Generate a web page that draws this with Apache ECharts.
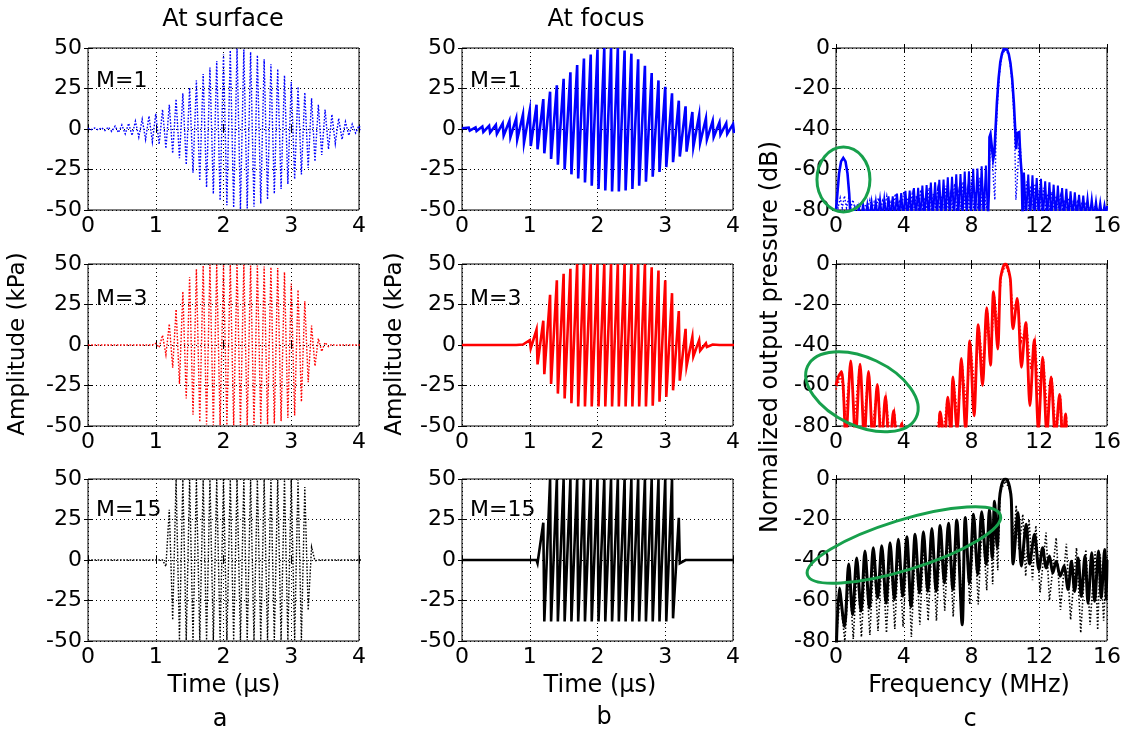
<!DOCTYPE html>
<html>
<head>
<meta charset="utf-8">
<script src="https://cdn.jsdelivr.net/npm/echarts@6/dist/echarts.min.js"></script>
<style>
  html, body { margin: 0; padding: 0; background: #fff; }
  #chart { width: 1126px; height: 740px; }
</style>
</head>
<body>
<div id="chart"></div>
<script>
// ---- tick values ----
const timeTicks = [0, 1, 2, 3, 4];
const ampTicks = [-50, -25, 0, 25, 50];
const freqTicks = [0, 4, 8, 12, 16];
const dbTicks = [-80, -60, -40, -20, 0];

// ---- time signals: one positive and one negative peak per 10 MHz cycle (kPa) ----
const cycleT = [0.0,0.1,0.2,0.3,0.4,0.5,0.6,0.7,0.8,0.9,1.0,1.1,1.2,1.3,1.4,1.5,1.6,1.7,1.8,1.9,2.0,
                2.1,2.2,2.3,2.4,2.5,2.6,2.7,2.8,2.9,3.0,3.1,3.2,3.3,3.4,3.5,3.6,3.7,3.8,3.9,4.0];
const surfaceLag = 0.05;   // µs from crest to trough, surface traces
const focusLag = 0.015;    // µs from crest to trough, focal traces (steep fall)

const surfM1Pos = [0.5,0.6,0.8,1.2,1.8,2.5,3.5,4.8,6,8,9.5,12,15,18.5,22,25.5,30,34,38,42,46,
                   48.5,49.5,49,47.5,45.5,43,40,37,33,29,26,22.5,19,15,12,9,6.5,4.5,3,2];
const surfM1Neg = [-0.4,-0.6,-1,-1.5,-2.2,-3,-4,-5,-6.5,-8,-9.5,-12,-15,-18,-22,-27,-32,-36,-40,-44,-47,
                   -48.5,-49.5,-49,-48,-46,-43.5,-40,-37,-34,-31,-28,-24,-20,-16,-12.5,-9,-6.5,-4,-2.5,-1.5];

const focusM1Pos = [0.5,0.8,1,1.5,2,2.5,3.5,5,6.5,9,11.5,15,18.5,23,27,31,35,39.5,43.5,46,49,
                    50,50,50,48.5,46.5,43,39,34.5,30,26,22,17.5,14,10.5,8.5,6.5,5,4,3.5,3];
const focusM1Neg = [-0.5,-1,-1.2,-1.8,-2.2,-3,-4,-5,-6.5,-8.5,-10.5,-12.5,-15,-18.5,-22,-25,-28,-30.5,-33,-35,-37,
                    -38,-38.5,-38.5,-38,-37,-35,-32.5,-29.5,-26.5,-23.5,-20.5,-17,-14,-11,-8.5,-6.5,-5,-3.5,-3,-2.5];

const surfM3Pos = [0,0,0,0,0,0,0,0,0,0,1,6,13,22,33,42,47,49,49.5,49.5,49.5,
                   49.5,49.5,49.5,49,49,48.5,48,47.5,45,38,34,27,12,4,1.5,0.5,0,0,0,0];
const surfM3Neg = [0,0,0,0,0,0,0,0,0,0,-1.5,-6,-14,-24,-33,-43,-47.5,-49,-49.5,-49.5,-49.5,
                   -49.5,-49.5,-49.5,-49.5,-49,-49,-48.5,-47,-45,-43.5,-35,-23,-13,-4,-1,-0.3,0,0,0,0];

const focusM3Pos = [0,0,0,0,0,0,0,0,0,0.3,3,9.5,15,31,40,44,47,50,50,50,50,
                    50,50,50,50,50,50,50,48,46,40,32,21,10,5,3,1,0.3,0,0,0];
const focusM3Neg = [0,0,0,0,-0.7,-0.7,-0.7,-0.7,-0.7,-0.7,-2,-12,-18,-24,-30,-33,-36,-38,-38,-38,-38,
                    -38,-38,-38,-38,-38,-38,-38,-37.5,-35,-32,-28,-22,-13,-7,-3.5,-1.2,-0.7,-0.5,-0.3,0];

const surfM15Pos = [0,0,0,0,0,0,0,0,0,0,0,0,31,49.5,49.5,49.5,49.5,49.5,49.5,49.5,49.5,
                    49.5,49.5,49.5,49.5,49.5,49.5,49.5,49.5,49.5,49.5,49.5,45,8,0,0,0,0,0,0,0];
const surfM15Neg = [0,0,0,0,0,0,0,0,0,0,0,-4,-37,-49.5,-49.5,-49.5,-49.5,-49.5,-49.5,-49.5,-49.5,
                    -49.5,-49.5,-49.5,-49.5,-49.5,-49.5,-49.5,-49.5,-49.5,-49.5,-49.5,-31,-0.5,0,0,0,0,0,0,0];

const focusM15Pos = [0,0,0,0,0,0,0,0,0,0,0,0,23,50,50,50,50,50,50,50,50,
                     50,50,50,50,50,50,50,50,50,50,50,26,0,0,0,0,0,0,0,0];
const focusM15Neg = [0,0,0,0,0,0,0,0,0,0,0,-2,-38,-38,-38,-38,-38,-38,-38,-38,-38,
                     -38,-38,-38,-38,-38,-38,-38,-38,-38,-38,-36,-2,0,0,0,0,0,0,0,0];

// ---- spectra: [frequency MHz, normalized level dB] ----
const specM1Lobes = [
  [0,-80],[0.08,-72],[0.18,-62],[0.3,-56],[0.43,-54.3],[0.56,-56],[0.68,-62],[0.78,-72],[0.86,-84],
  [8.97,-84],[9.03,-70],[9.06,-44],[9.12,-42.5],[9.22,-42.8],[9.28,-55],[9.35,-52],[9.42,-40],[9.5,-27],
  [9.6,-15],[9.7,-7],[9.8,-2.8],[9.9,-0.6],[10.0,0],[10.1,-0.7],[10.2,-3],[10.3,-7.5],[10.4,-15],
  [10.5,-27],[10.58,-40],[10.64,-50],[10.7,-42],[10.82,-41.5],[10.88,-53],[10.96,-62],[11.02,-84]
];
const specM1Floor = [
  [0.86,-84],[1.1,-79],[1.22,-84],[1.35,-78.6],[1.47,-84],[1.6,-77.4],[1.72,-84],[1.85,-77.2],[1.97,-84],
  [2.1,-76],[2.22,-84],[2.35,-75.8],[2.47,-84],[2.6,-74.8],[2.72,-84],[2.85,-74.5],[2.97,-84],[3.1,-73.3],
  [3.22,-84],[3.35,-73.2],[3.47,-84],[3.6,-71.9],[3.72,-84],[3.85,-71.7],[3.97,-84],[4.1,-70.5],[4.22,-84],
  [4.35,-70.4],[4.47,-84],[4.6,-69.2],[4.72,-84],[4.85,-69],[4.97,-84],[5.1,-67.9],[5.22,-84],[5.35,-67.7],
  [5.47,-84],[5.6,-66.5],[5.72,-84],[5.85,-66.3],[5.97,-84],[6.1,-65.1],[6.22,-84],[6.35,-65],[6.47,-84],
  [6.6,-63.8],[6.72,-84],[6.85,-63.6],[6.97,-84],[7.1,-62.4],[7.22,-84],[7.35,-62.2],[7.47,-84],[7.6,-61],
  [7.72,-84],[7.85,-60.9],[7.97,-84],[8.1,-59.7],[8.22,-84],[8.35,-59.5],[8.47,-84],[8.6,-58.4],[8.72,-84],
  [8.85,-58],[8.97,-84],
  [11.02,-84],[11.1,-61.5],[11.22,-84],[11.35,-62.5],[11.47,-84],[11.6,-62.9],[11.72,-84],[11.85,-64.2],
  [11.97,-84],[12.1,-64.6],[12.22,-84],[12.35,-65.8],[12.47,-84],[12.6,-66.3],[12.72,-84],[12.85,-67.5],
  [12.97,-84],[13.1,-67.9],[13.22,-84],[13.35,-69.2],[13.47,-84],[13.6,-69.6],[13.72,-84],[13.85,-70.8],
  [13.97,-84],[14.1,-71.3],[14.22,-84],[14.35,-72.5],[14.47,-84],[14.6,-72.9],[14.72,-84],[14.85,-74.2],
  [14.97,-84],[15.1,-74.6],[15.22,-84],[15.35,-75.8],[15.47,-84],[15.6,-76.3],[15.72,-84],[15.85,-77.5],
  [15.97,-84],[16,-78]
];
const specM1Dot = [
  [0,-75],[0.12,-79],[0.25,-74],[0.37,-79],[0.5,-73],[0.62,-79],[0.75,-74],[0.87,-79],[1.0,-75],[1.12,-79.5],
  [1.25,-77],[1.37,-79.5],[1.5,-76.5],[1.62,-79.5],[1.75,-77.5],[1.87,-79.5],[2.0,-75],[2.12,-79.5],
  [2.25,-76],[2.37,-79.5],[2.5,-74],[2.62,-79.5],[2.75,-75.5],[2.87,-79.5],[3.0,-73],[3.12,-79.5],
  [3.25,-76],[3.37,-79.5],[3.5,-72],[3.62,-79.5],[3.75,-75],[3.87,-79.5],[4.0,-71],[4.12,-79.5],
  [4.25,-74],[4.37,-79.5],[4.5,-72],[4.62,-79.5],[4.75,-73],[4.87,-79.5],[5.0,-70],[5.12,-79.5],
  [5.25,-74],[5.37,-79.5],[5.5,-69],[5.62,-79.5],[5.75,-72],[5.87,-79.5],[6.0,-70],[6.12,-79.5],
  [6.25,-73],[6.37,-79.5],[6.5,-68],[6.62,-79.5],[6.75,-72],[6.87,-79.5],[7.0,-67],[7.12,-79.5],
  [7.25,-71],[7.37,-79.5],[7.5,-66],[7.62,-79.5],[7.75,-70],[7.87,-79.5],[8.0,-65],[8.12,-79.5],
  [8.25,-71],[8.37,-79.5],[8.5,-64],[8.62,-79.5],[8.75,-70],[8.87,-79.5],
  [9.0,-72],[9.1,-50],[9.2,-48],[9.3,-66],[9.38,-75],[9.45,-42],[9.55,-25],[9.65,-13],[9.78,-4],[10.0,-0.5],
  [10.22,-4],[10.35,-13],[10.45,-25],[10.55,-42],[10.62,-75],[10.7,-66],[10.8,-48],[10.9,-50],[11.0,-72],
  [11.12,-79.5],[11.25,-66],[11.37,-79.5],[11.5,-68],[11.62,-79.5],[11.75,-67],[11.87,-79.5],[12.0,-70],
  [12.12,-79.5],[12.25,-69],[12.37,-79.5],[12.5,-72],[12.62,-79.5],[12.75,-71],[12.87,-79.5],[13.0,-73],
  [13.12,-79.5],[13.25,-73],[13.37,-79.5],[13.5,-75],[13.62,-79.5],[13.75,-74],[13.87,-79.5],[14.0,-76],
  [14.12,-79.5],[14.25,-76],[14.37,-79.5],[14.5,-77],[14.62,-79.5],[14.75,-77],[14.87,-79.5],[15.0,-78],
  [15.12,-79.5],[15.25,-78],[15.37,-79.5],[15.5,-79],[15.62,-79.5],[16,-79.5]
];

const specM3Solid = [
  [0,-60],[0.12,-56],[0.33,-53],[0.58,-86],[0.87,-47.8],[1.15,-86],[1.42,-49.4],[1.67,-86],[1.92,-53],
  [2.18,-88],[2.44,-59.4],[2.68,-90],[2.92,-65.4],[3.16,-92],[3.4,-72.4],[3.63,-94],[3.88,-78.7],[4.1,-98],
  [5.9,-95],[6.15,-73],[6.4,-88],[6.6,-65.7],[6.78,-84],[6.9,-55.7],[7.15,-82],[7.4,-46.6],[7.65,-82],
  [7.9,-38],[8.15,-75],[8.4,-30],[8.65,-60],[8.9,-21.6],[9.12,-50],[9.3,-13.6],[9.55,-42],[9.7,-8],
  [9.8,-3.5],[9.9,-0.8],[10.0,0],[10.1,-0.8],[10.2,-3.5],[10.3,-8],[10.45,-32],[10.7,-17],[10.95,-51],
  [11.2,-29],[11.45,-70],[11.7,-37.4],[11.95,-82],[12.2,-46],[12.45,-84],[12.7,-55.7],[12.95,-86],
  [13.2,-64.4],[13.4,-90],[13.55,-74],[13.75,-95],[16,-99]
];
const specM3Dot = [
  [0,-62],[0.3,-55],[0.55,-75],[0.85,-49],[1.1,-75],[1.4,-50],[1.65,-78],[1.9,-54],[2.15,-80],[2.45,-60],
  [2.7,-84],[2.95,-66],[3.2,-86],[3.45,-73],[3.65,-88],[3.9,-79],[4.1,-95],
  [5.8,-90],[6.1,-75],[6.3,-85],[6.55,-68],[6.75,-82],[6.95,-58],[7.2,-76],[7.45,-49],[7.7,-70],[7.95,-40],
  [8.2,-62],[8.45,-32],[8.7,-52],[8.95,-24],[9.15,-45],[9.35,-16],[9.55,-30],[9.75,-6],[10,-0.5],
  [10.25,-6],[10.45,-22],[10.7,-18],[10.95,-38],[11.25,-30],[11.5,-52],[11.75,-38],[12.0,-65],[12.25,-47],
  [12.5,-75],[12.75,-56],[13.0,-85],[13.25,-65],[13.45,-92],[13.6,-75],[13.8,-96],[16,-99]
];

const specM15Solid = [
  [0,-90],[0.2,-53.8],[0.5,-72.8],[0.75,-42],[0.98,-67],[1.22,-39],[1.48,-65.3],[1.71,-35.6],[1.97,-63.7],
  [2.2,-34],[2.46,-58.8],[2.7,-33],[2.96,-61.3],[3.19,-31.5],[3.45,-59.6],[3.68,-29.8],[3.94,-57.9],
  [4.18,-28.5],[4.43,-63],[4.67,-27.3],[4.93,-56.3],[5.16,-26],[5.42,-55.5],[5.66,-24.5],[5.91,-55.5],
  [6.15,-23],[6.4,-51.3],[6.64,-21.8],[6.9,-54.6],[7.13,-20.2],[7.45,-72],[7.63,-19],[7.88,-51.3],
  [8.12,-17.4],[8.37,-47.2],[8.6,-16.2],[8.87,-42.2],[9.06,-14.9],[9.22,-39],[9.36,-11],[9.52,-34],
  [9.65,-10],[9.75,-4],[9.87,-0.8],[10.0,0],[10.13,-0.8],[10.25,-4],[10.35,-10],[10.46,-42],[10.74,-16.6],
  [10.94,-43],[11.23,-22.4],[11.43,-42],[11.72,-27.3],[11.98,-44.7],[12.2,-34],[12.41,-43.9],[12.6,-38],
  [12.8,-46.4],[13.0,-40.6],[13.24,-48],[13.46,-43],[13.7,-54.6],[13.9,-40.6],[14.09,-55.5],[14.3,-39],
  [14.48,-58],[14.7,-38],[14.88,-61.3],[15.1,-36.4],[15.27,-60.4],[15.5,-35.6],[15.66,-58.8],[15.86,-34.8],
  [15.96,-59.6],[16,-40]
];
const specM15Dot = [
  [0,-80],[0.25,-58],[0.52,-80],[0.78,-46],[1.02,-79],[1.25,-43],[1.5,-78],[1.74,-40],[2.0,-77],[2.23,-38],
  [2.48,-75],[2.73,-37],[2.98,-76],[3.22,-35],[3.47,-74],[3.71,-33],[3.96,-73],[4.21,-32],[4.45,-78],
  [4.7,-31],[4.95,-72],[5.19,-30],[5.44,-70],[5.69,-28],[5.93,-70],[6.18,-27],[6.42,-65],[6.67,-25],
  [6.92,-68],[7.16,-24],[7.42,-60],[7.66,-23],[7.9,-62],[8.15,-21],[8.4,-62],[8.63,-20],[8.9,-55],
  [9.09,-18],[9.25,-52],[9.4,-14],[9.55,-45],[9.7,-6],[10,-1],[10.3,-6],[10.5,-30],[10.64,-13],
  [10.8,-35],[11.03,-17.4],[11.2,-48],[11.4,-20],[11.6,-50],[11.8,-23],[12.05,-56],[12.4,-26.5],
  [12.6,-60],[13.0,-29],[13.25,-64.6],[13.6,-32],[13.85,-69.5],[14.2,-34],[14.45,-76],[14.75,-34.8],
  [15.0,-72],[15.3,-35.8],[15.45,-74.5],[15.6,-37.3],[15.8,-70],[16,-38]
];

// ---- annotation rings around the low-frequency content: [MHz, dB] centre, radii px, tilt rad ----
const ringCentres = [[0.44, -64.9], [1.53, -63.1], [4.01, -32.6]];
const ringRadii = [[26.5, 32.5], [60, 34], [101, 25]];
const ringTilt = [0, -0.44, 0.30];

// ---- layout ----
const FONT = 'DejaVu Sans';
const colLeft = [88, 462, 836];
const rowTop = [48, 264, 479];
const plotW = 271, plotH = 162;

function wave(pos, neg, lag) {
  const out = [];
  for (let i = 0; i < cycleT.length; i++) {
    out.push([cycleT[i], pos[i]]);
    out.push([cycleT[i] + lag, neg[i]]);
  }
  return out;
}

const BLUE = '#0000ff', RED = '#ff0000', BLACK = '#000000';
const dotted = [1.5, 2];
const fineDots = [1.6, 1.6];

const panels = [
  { row: 0, col: 0, kind: 'time', tag: 'M=1', traces: [{ data: wave(surfM1Pos, surfM1Neg, surfaceLag), color: BLUE, width: 1.4, dash: fineDots }] },
  { row: 0, col: 1, kind: 'time', tag: 'M=1', traces: [{ data: wave(focusM1Pos, focusM1Neg, focusLag), color: BLUE, width: 2.6 }] },
  { row: 0, col: 2, kind: 'freq', traces: [
      { data: specM1Dot, color: BLUE, width: 1.4, dash: dotted },
      { data: specM1Floor, color: BLUE, width: 2 },
      { data: specM1Lobes, color: BLUE, width: 2.6 }] },
  { row: 1, col: 0, kind: 'time', tag: 'M=3', traces: [{ data: wave(surfM3Pos, surfM3Neg, surfaceLag), color: RED, width: 1.4, dash: fineDots }] },
  { row: 1, col: 1, kind: 'time', tag: 'M=3', traces: [{ data: wave(focusM3Pos, focusM3Neg, focusLag), color: RED, width: 2.6 }] },
  { row: 1, col: 2, kind: 'freq', traces: [
      { data: specM3Dot, color: RED, width: 1.6, dash: dotted },
      { data: specM3Solid, color: RED, width: 2.8, smooth: 0.3 }] },
  { row: 2, col: 0, kind: 'time', tag: 'M=15', traces: [{ data: wave(surfM15Pos, surfM15Neg, surfaceLag), color: BLACK, width: 1.4, dash: fineDots }] },
  { row: 2, col: 1, kind: 'time', tag: 'M=15', traces: [{ data: wave(focusM15Pos, focusM15Neg, focusLag), color: BLACK, width: 2.6 }] },
  { row: 2, col: 2, kind: 'freq', traces: [
      { data: specM15Dot, color: BLACK, width: 1.6, dash: dotted },
      { data: specM15Solid, color: BLACK, width: 3, smooth: 0.3 }] }
];

const grid = [], xAxis = [], yAxis = [], series = [];
const ringSeries = [];

panels.forEach((p, g) => {
  grid.push({
    left: colLeft[p.col], top: rowTop[p.row], width: plotW, height: plotH,
    show: true, borderColor: '#000', borderWidth: 1, backgroundColor: '#fff'
  });
  const xt = p.kind === 'time' ? timeTicks : freqTicks;
  const yt = p.kind === 'time' ? ampTicks : dbTicks;
  [false, true].forEach(other => {
    xAxis.push({
      type: 'value', gridIndex: g, position: other ? 'top' : 'bottom',
      min: xt[0], max: xt[xt.length - 1], interval: xt[1] - xt[0],
      axisLine: { show: false },
      axisTick: { show: true, inside: true, length: 4, lineStyle: { color: '#000', width: 1 } },
      axisLabel: { show: !other, fontFamily: FONT, fontSize: 22, color: '#000', margin: 5 },
      splitLine: { show: !other, lineStyle: { color: '#000', width: 1, type: [1, 3] } }
    });
    yAxis.push({
      type: 'value', gridIndex: g, position: other ? 'right' : 'left',
      min: yt[0], max: yt[yt.length - 1], interval: yt[1] - yt[0],
      axisLine: { show: false },
      axisTick: { show: true, inside: true, length: 4, lineStyle: { color: '#000', width: 1 } },
      axisLabel: { show: !other, fontFamily: FONT, fontSize: 22, color: '#000', margin: 6 },
      splitLine: { show: !other, lineStyle: { color: '#000', width: 1, type: [1, 3] } }
    });
  });
  p.traces.forEach(tr => {
    if (p.kind === 'freq' && ringSeries.length < p.row + 1) ringSeries.push(series.length);
    series.push({
      type: 'line', xAxisIndex: 2 * g, yAxisIndex: 2 * g,
      data: tr.data, showSymbol: false, symbol: 'none', silent: true, animation: false,
      clip: true, smooth: tr.smooth || false,
      lineStyle: { color: tr.color, width: tr.width, type: tr.dash || 'solid', join: 'miter', cap: 'butt' }
    });
  });
});

function txt(text, x, y, size, opts) {
  opts = opts || {};
  return {
    type: 'text', x: x, y: y, rotation: opts.rot || 0, silent: true, z: 100,
    style: {
      text: text, x: 0, y: 0, fill: '#000',
      font: size + 'px "' + FONT + '"',
      textAlign: opts.align || 'center', textVerticalAlign: 'middle', verticalAlign: 'middle'
    }
  };
}

const graphics = [
  txt('At surface', 223, 20, 24),
  txt('At focus', 596, 20, 24),
  txt('Amplitude (kPa)', 18, 344, 23, { rot: Math.PI / 2 }),
  txt('Amplitude (kPa)', 395, 344, 23, { rot: Math.PI / 2 }),
  txt('Normalized output pressure (dB)', 771, 337, 24, { rot: Math.PI / 2 }),
  txt('Time (\u00b5s)', 224, 686, 24),
  txt('Time (\u00b5s)', 600, 686, 24),
  txt('Frequency (MHz)', 969, 686, 24),
  txt('a', 220, 720, 24),
  txt('b', 604, 718, 24),
  txt('c', 970, 720, 24)
];
const tagY = [81, 299, 510];
panels.forEach(p => {
  if (p.tag) graphics.push(txt(p.tag, p.col === 0 ? 96 : 470, tagY[p.row], 22, { align: 'left' }));
});

const chart = echarts.init(document.getElementById('chart'), null, { renderer: 'canvas' });
chart.setOption({
  animation: false,
  backgroundColor: '#fff',
  grid: grid, xAxis: xAxis, yAxis: yAxis, series: series,
  graphic: { elements: graphics }
});

// rings placed from their data-space centres
const rings = ringCentres.map((c, i) => {
  const px = chart.convertToPixel({ seriesIndex: ringSeries[i] }, c);
  return {
    type: 'ellipse', x: px[0], y: px[1], rotation: ringTilt[i], silent: true, z: 120,
    shape: { cx: 0, cy: 0, rx: ringRadii[i][0], ry: ringRadii[i][1] },
    style: { fill: 'none', stroke: '#17a04c', lineWidth: 3 }
  };
});
chart.setOption({ graphic: { elements: graphics.concat(rings) } });
</script>
</body>
</html>
